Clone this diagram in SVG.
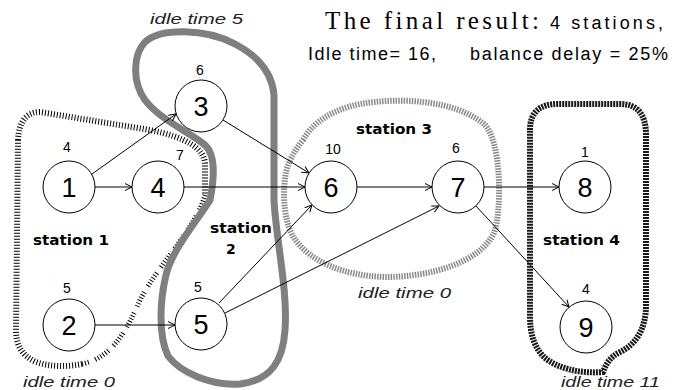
<svg xmlns="http://www.w3.org/2000/svg" width="686" height="390" viewBox="0 0 686 390">
  <defs>
    <marker id="arrow" markerUnits="userSpaceOnUse" markerWidth="10" markerHeight="10" refX="7" refY="4" orient="auto">
      <path d="M0,0.5 L7,4 L0,7.5" fill="none" stroke="#000" stroke-width="1"/>
    </marker>
  </defs>
  <style>
    .node circle { fill: #fff; stroke: #000; stroke-width: 1; }
    .num { font-family: "Liberation Sans", Arial, sans-serif; font-size: 27px; text-anchor: middle; fill: #000; }
    .w { font-family: "Liberation Sans", Arial, sans-serif; font-size: 14px; text-anchor: middle; fill: #000; }
    .st { font-family: "DejaVu Sans", "Liberation Sans", sans-serif; font-size: 14px; font-weight: bold; fill: #000; }
    .idle { font-family: "Liberation Sans", Arial, sans-serif; font-size: 14px; font-style: italic; fill: #222; }
    .edge { fill: none; stroke: #000; stroke-width: 1; marker-end: url(#arrow); }
    .title { font-family: "Liberation Serif", "Times New Roman", serif; font-size: 25px; fill: #000; }
    .info { font-family: "Liberation Sans", Arial, sans-serif; font-size: 18px; fill: #000; }
    .hatch { fill: none; stroke: #000; stroke-width: 6; stroke-dasharray: 1 2; }
    .broken { fill: none; stroke: #000; stroke-width: 5; stroke-dasharray: 1 2 1 2 1 2 1 2 1 2 1 7; }
    .grey { fill: none; stroke: #7f7f7f; stroke-width: 7; }
    .dots { fill: none; stroke: #8a8a8a; stroke-width: 6; stroke-dasharray: 1.5 1.2; }
    .wave { fill: none; stroke: #1a1a1a; stroke-width: 6; stroke-dasharray: 2 1; }
  </style>

  <rect width="686" height="390" fill="#fff"/>

  <!-- station outlines -->
  <g id="stations">
    <path id="outline-station1" class="hatch" d="M 18,140 C 19,122 26,112 40,112 L 150,130 C 185,137 205,148 205,165 L 205,195"/>
    <path class="broken" d="M 205,195 C 195,230 160,262 140,300 C 125,335 110,358 82,364"/>
    <path class="hatch" d="M 82,364 C 66,367 50,367 36,362 C 22,356 16,345 16,330 L 18,140"/>

    <path id="outline-station2" class="grey" d="M 210,200 C 214,180 216,155 205,145 C 190,132 160,120 145,100 C 132,82 133,55 145,42 C 160,28 205,28 235,44 C 258,56 272,72 274,95 L 274,200 C 276,240 288,290 285,330 C 283,360 272,380 240,384 C 210,386 180,372 168,356 C 158,335 160,300 166,275 C 172,250 196,222 210,200 Z"/>

    <path id="outline-station3" class="dots" d="M 303,140 C 312,124 330,110 360,104 C 400,97 455,100 484,124 C 502,140 502,212 494,233 C 480,262 432,277 385,277 C 345,276 310,262 294,238 C 284,222 282,195 286,172 C 289,160 295,150 303,140 Z"/>

    <path id="outline-station4" class="wave" d="M 530,130 C 530,112 540,104 558,104 L 620,104 C 638,104 646,115 646,135 L 646,305 C 646,330 635,345 620,352 C 610,357 606,364 603,372 C 580,374 556,368 544,357 C 533,346 530,332 530,315 Z"/>
  </g>

  <!-- precedence arrows -->
  <g id="connectors">
    <path class="edge" d="M 95,187 L 132,187"/>
    <path class="edge" d="M 92,174 L 176,114"/>
    <path class="edge" d="M 184,187 L 305,187"/>
    <path class="edge" d="M 223,120 L 309,173"/>
    <path class="edge" d="M 219,303 L 312,205"/>
    <path class="edge" d="M 225,313 L 439,206"/>
    <path class="edge" d="M 357,187 L 432,187"/>
    <path class="edge" d="M 484,187 L 559,187"/>
    <path class="edge" d="M 476,206 L 569,307"/>
    <path class="edge" d="M 95,325 L 175,325"/>
  </g>

  <!-- task nodes with their times -->
  <g id="node1" class="node"><circle cx="69" cy="187" r="26"/><text class="num" x="69" y="197">1</text><text class="w" x="67" y="152">4</text></g>
  <g id="node2" class="node"><circle cx="69" cy="325" r="26"/><text class="num" x="69" y="335">2</text><text class="w" x="67" y="293">5</text></g>
  <g id="node3" class="node"><circle cx="201" cy="106" r="26"/><text class="num" x="201" y="116">3</text><text class="w" x="200" y="75">6</text></g>
  <g id="node4" class="node"><circle cx="158" cy="187" r="26"/><text class="num" x="158" y="197">4</text><text class="w" x="180" y="160">7</text></g>
  <g id="node5" class="node"><circle cx="201" cy="324" r="26"/><text class="num" x="201" y="334">5</text><text class="w" x="198" y="292">5</text></g>
  <g id="node6" class="node"><circle cx="331" cy="187" r="26"/><text class="num" x="331" y="197">6</text><text class="w" x="333" y="154">10</text></g>
  <g id="node7" class="node"><circle cx="458" cy="187" r="26"/><text class="num" x="458" y="197">7</text><text class="w" x="456" y="153">6</text></g>
  <g id="node8" class="node"><circle cx="585" cy="187" r="26"/><text class="num" x="585" y="197">8</text><text class="w" x="585" y="157">1</text></g>
  <g id="node9" class="node"><circle cx="586" cy="327" r="26"/><text class="num" x="586" y="337">9</text><text class="w" x="586" y="294">4</text></g>

  <!-- station labels -->
  <g id="station-labels">
    <text class="st" x="33" y="245" textLength="76" lengthAdjust="spacingAndGlyphs">station 1</text>
    <text class="st" x="210" y="233" textLength="62" lengthAdjust="spacingAndGlyphs">station</text>
    <text class="st" x="226" y="254">2</text>
    <text class="st" x="356" y="134" textLength="76" lengthAdjust="spacingAndGlyphs">station 3</text>
    <text class="st" x="543" y="245" textLength="77" lengthAdjust="spacingAndGlyphs">station 4</text>
  </g>

  <!-- idle time labels -->
  <g id="idle-labels">
    <text class="idle" x="150" y="24" textLength="93" lengthAdjust="spacingAndGlyphs">idle time 5</text>
    <text class="idle" x="358" y="298" textLength="93" lengthAdjust="spacingAndGlyphs">idle time 0</text>
    <text class="idle" x="23" y="387" textLength="92" lengthAdjust="spacingAndGlyphs">idle time 0</text>
    <text class="idle" x="561" y="387" textLength="99" lengthAdjust="spacingAndGlyphs">idle time 11</text>
  </g>

  <!-- summary -->
  <g id="summary">
    <text class="title" x="325" y="29" textLength="214" lengthAdjust="spacing">The final result:</text>
    <text class="info" x="550" y="29" textLength="113" lengthAdjust="spacing">4 stations,</text>
    <text class="info" x="308" y="60" textLength="128" lengthAdjust="spacing">Idle time= 16,</text>
    <text class="info" x="470" y="60" textLength="198" lengthAdjust="spacing">balance delay = 25%</text>
  </g>
</svg>
